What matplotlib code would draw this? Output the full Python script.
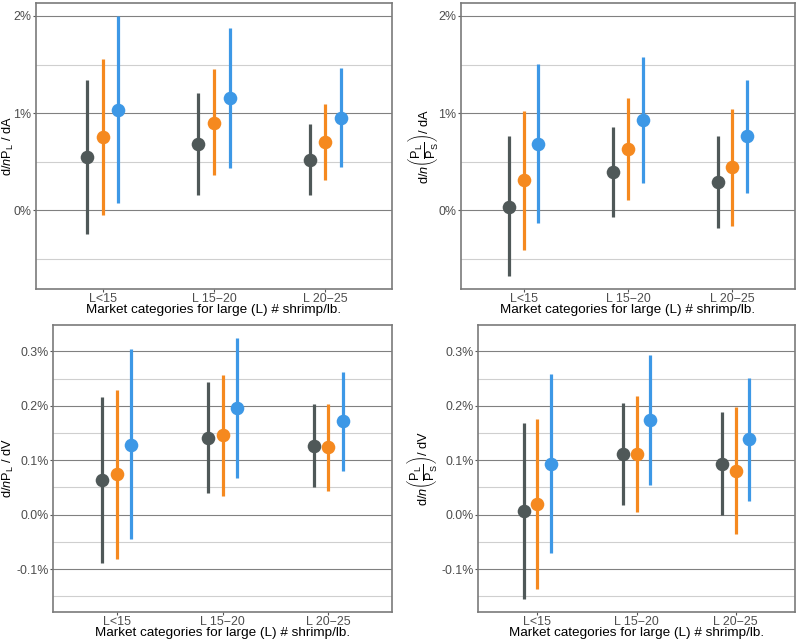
import matplotlib.pyplot as plt
import numpy as np

plt.rcParams['font.family'] = ['Liberation Sans', 'DejaVu Sans']
plt.rcParams['mathtext.fontset'] = 'custom'
plt.rcParams['mathtext.rm'] = 'Liberation Sans'
plt.rcParams['mathtext.it'] = 'Liberation Sans:italic'
plt.rcParams['mathtext.bf'] = 'Liberation Sans:bold'

categories = ["L<15", "L 15\u221220", "L 20\u221225"]
colors = ["#4f5858", "#f5891f", "#3d98e6"]  # gray, orange, blue groups

# top-left: d ln P_L / dA  (percent)
tl_est = [[0.55, 0.68, 0.52], [0.756, 0.90, 0.70], [1.03, 1.15, 0.95]]
tl_lo = [[-0.25, 0.16, 0.16], [-0.05, 0.36, 0.31], [0.07, 0.43, 0.44]]
tl_hi = [[1.34, 1.21, 0.89], [1.556, 1.45, 1.09], [2.00, 1.876, 1.46]]

# top-right: d ln(P_L/P_S) / dA
tr_est = [[0.034, 0.395, 0.285], [0.31, 0.625, 0.447], [0.68, 0.93, 0.763]]
tr_lo = [[-0.68, -0.07, -0.19], [-0.41, 0.10, -0.16], [-0.13, 0.275, 0.18]]
tr_hi = [[0.76, 0.86, 0.76], [1.02, 1.155, 1.045], [1.505, 1.58, 1.34]]

# bottom-left: d ln P_L / dV
bl_est = [[0.0637, 0.1415, 0.127], [0.074, 0.146, 0.125], [0.129, 0.196, 0.173]]
bl_lo = [[-0.089, 0.039, 0.0515], [-0.081, 0.035, 0.044], [-0.045, 0.067, 0.080]]
bl_hi = [[0.217, 0.244, 0.204], [0.229, 0.256, 0.204], [0.304, 0.325, 0.263]]

# bottom-right: d ln(P_L/P_S) / dV
br_est = [[0.0074, 0.111, 0.094], [0.0196, 0.112, 0.081], [0.094, 0.174, 0.140]]
br_lo = [[-0.154, 0.017, -0.0006], [-0.137, 0.005, -0.036], [-0.070, 0.0545, 0.026]]
br_hi = [[0.169, 0.206, 0.189], [0.176, 0.219, 0.197], [0.258, 0.293, 0.252]]

top_ticks = [0, 1, 2]
top_labels = ["0%", "1%", "2%"]
top_minor = [-0.5, 0.5, 1.5]
bot_ticks = [-0.1, 0.0, 0.1, 0.2, 0.3]
bot_labels = ["-0.1%", "0.0%", "0.1%", "0.2%", "0.3%"]
bot_minor = [-0.15, -0.05, 0.05, 0.15, 0.25]

xlabel = "Market categories for large (L) # shrimp/lb."
lab_pl_a = r"$\mathrm{d/}\mathit{n}\mathrm{P_L\ /\ dA}$"
lab_ratio_a = r"$\mathrm{d/}\mathit{n}\left(\dfrac{\mathrm{P_L}}{\mathrm{P_S}}\right)\mathrm{/\ dA}$"
lab_pl_v = r"$\mathrm{d/}\mathit{n}\mathrm{P_L\ /\ dV}$"
lab_ratio_v = r"$\mathrm{d/}\mathit{n}\left(\dfrac{\mathrm{P_L}}{\mathrm{P_S}}\right)\mathrm{/\ dV}$"

W, H = 796, 640
fig = plt.figure(figsize=(W / 100, H / 100), dpi=100)


def px_axes(left, right, top, bottom):
    return fig.add_axes([left / W, 1 - bottom / H, (right - left) / W, (bottom - top) / H])


def panel(ax, est, lo, hi, ylim, ticks, labels, minor, ylabel, ylab_px, left_px, right_px):
    x = np.arange(1, len(categories) + 1)
    dodge = 0.14
    for g in range(3):
        xs = x + (g - 1) * dodge
        ax.vlines(xs, lo[g], hi[g], color=colors[g], lw=2.3, zorder=3)
        ax.plot(xs, est[g], "o", color=colors[g], ms=9.8, mew=0, zorder=4)
    ax.set_xlim(0.4, 3.6)
    ax.set_ylim(*ylim)
    ax.set_xticks(x)
    ax.set_xticklabels(categories)
    ax.set_yticks(ticks)
    ax.set_yticklabels(labels)
    ax.set_yticks(minor, minor=True)
    ax.grid(True, which="major", axis="y", color="#808080", lw=0.8, zorder=0)
    ax.grid(True, which="minor", axis="y", color="#cfcfcf", lw=0.8, zorder=0)
    ax.tick_params(axis="both", which="major", length=2.2, width=0.8, color="#555555",
                   labelsize=8.9, labelcolor="#4d4d4d", pad=1)
    ax.tick_params(axis="y", which="minor", length=0)
    for s in ax.spines.values():
        s.set_color("#7a7a7a")
        s.set_linewidth(1.2)
    ax.set_xlabel(xlabel, fontsize=9.7, labelpad=-1)
    ax.set_ylabel(ylabel, fontsize=9.2, va="center")
    ax.yaxis.set_label_coords((ylab_px - left_px) / (right_px - left_px), 0.5)
    ax.set_axisbelow(True)


top_ylim = (-0.814, 2.134)
bot_ylim = (-0.1788, 0.3486)

ax1 = px_axes(36, 392, 3, 289)
panel(ax1, tl_est, tl_lo, tl_hi, top_ylim, top_ticks, top_labels, top_minor, lab_pl_a, 8.5, 36, 392)
ax2 = px_axes(461, 795, 3, 289)
panel(ax2, tr_est, tr_lo, tr_hi, top_ylim, top_ticks, top_labels, top_minor, lab_ratio_a, 423, 461, 795)
ax3 = px_axes(53, 392, 325, 612)
panel(ax3, bl_est, bl_lo, bl_hi, bot_ylim, bot_ticks, bot_labels, bot_minor, lab_pl_v, 8.5, 53, 392)
ax4 = px_axes(478, 795, 325, 612)
panel(ax4, br_est, br_lo, br_hi, bot_ylim, bot_ticks, bot_labels, bot_minor, lab_ratio_v, 422, 478, 795)

fig.savefig("out.png", dpi=100)
